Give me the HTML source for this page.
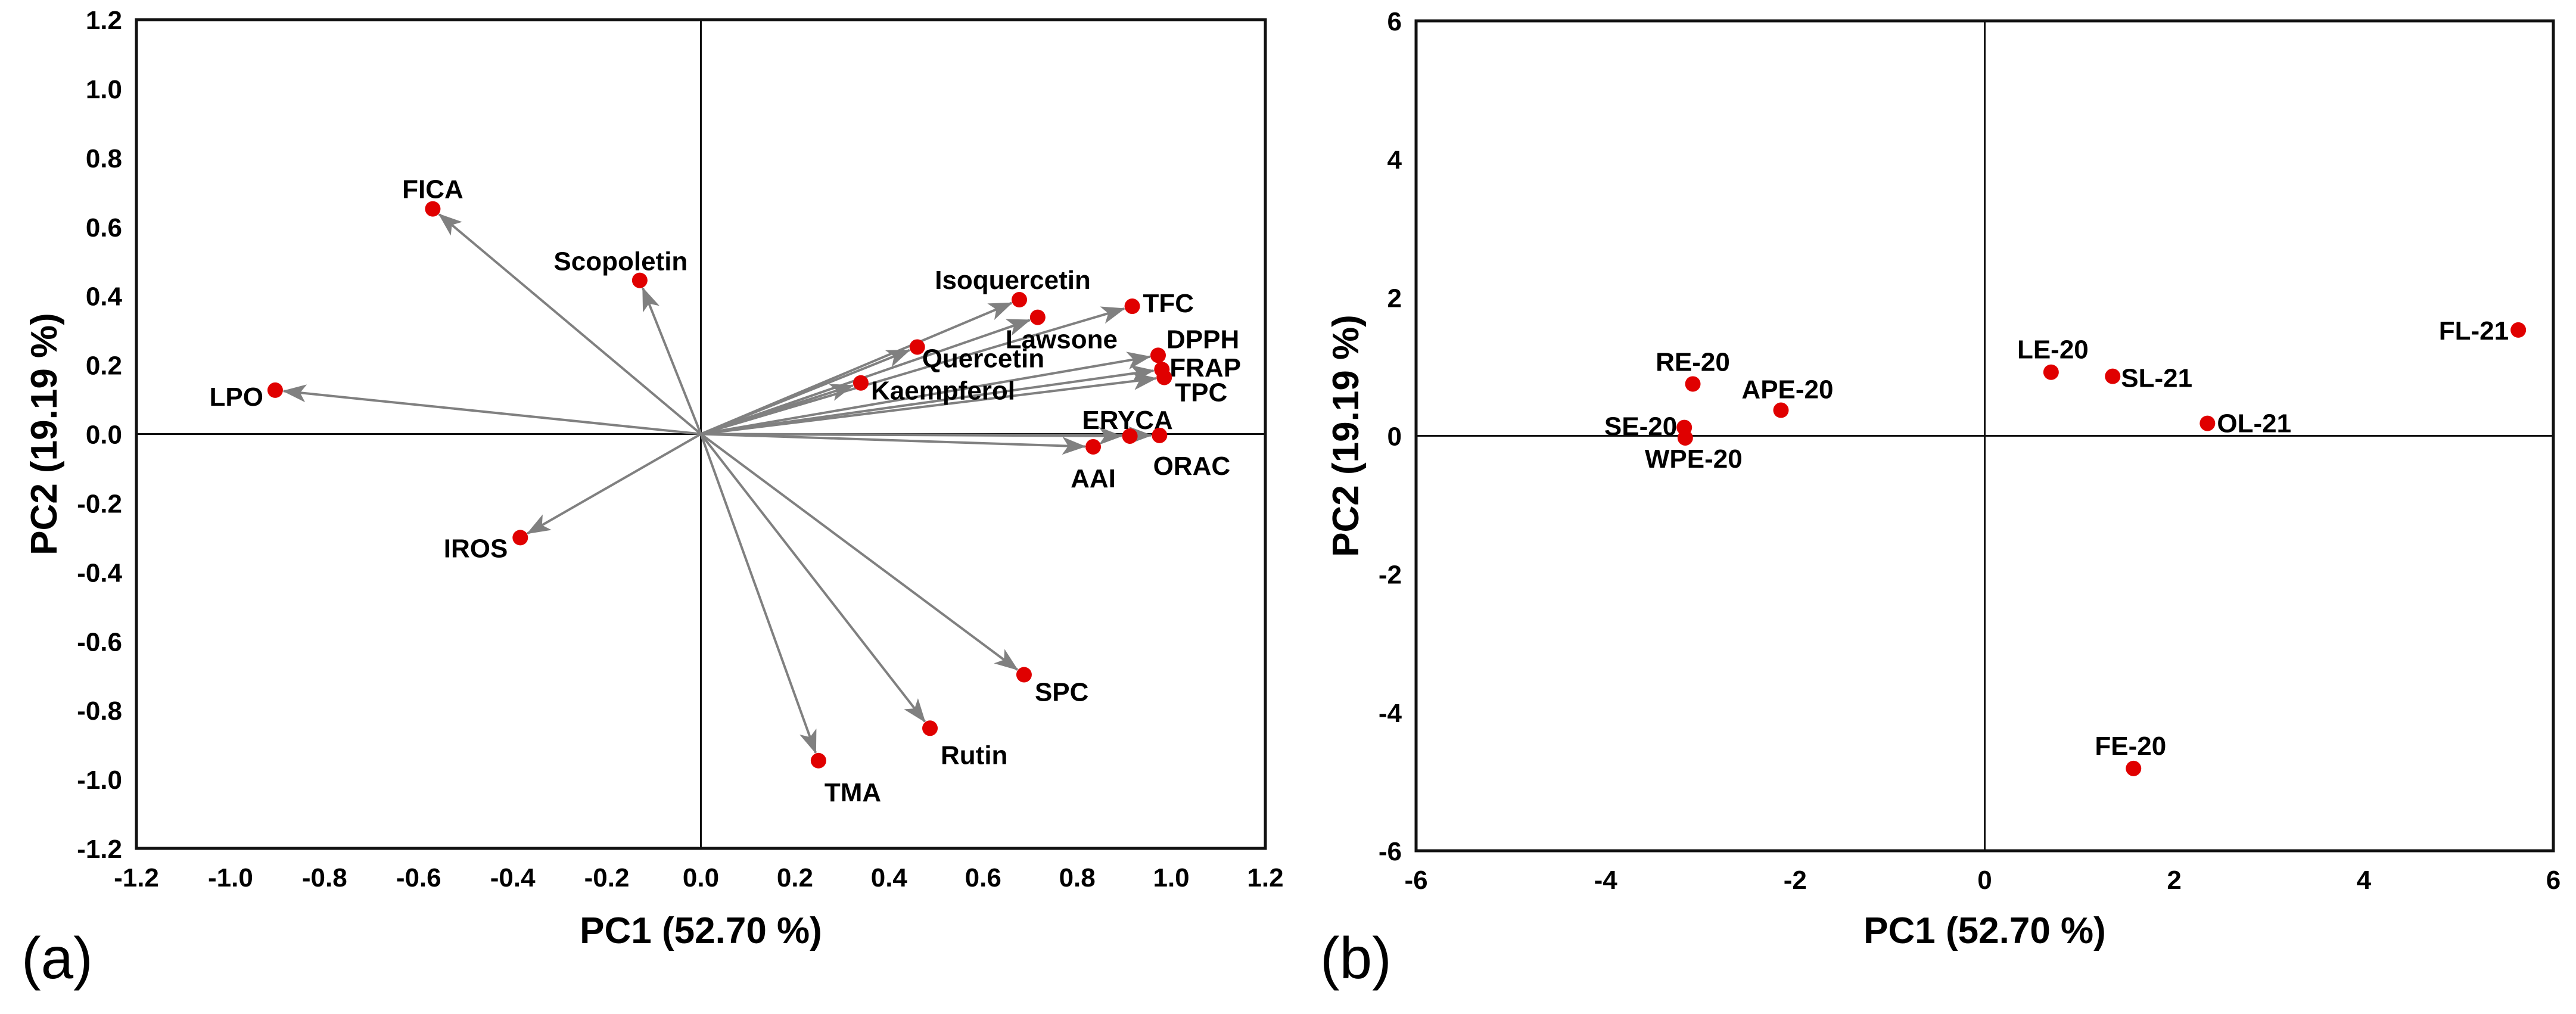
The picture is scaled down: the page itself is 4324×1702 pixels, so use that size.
<!DOCTYPE html>
<html><head><meta charset="utf-8">
<style>
html,body{margin:0;padding:0;background:#fff;}
svg{display:block;}
text{font-family:"Liberation Sans Narrow","Liberation Sans",Arial,sans-serif;font-weight:bold;fill:#000;}
.lab{font-family:"Liberation Sans",Arial,sans-serif;font-weight:normal;}
</style></head>
<body>
<svg id="fig" width="4324" height="1702" viewBox="0 0 4324 1702" xmlns="http://www.w3.org/2000/svg">
<defs>
<marker id="ah" viewBox="0 0 40 30" refX="38" refY="15" markerWidth="40" markerHeight="30" markerUnits="userSpaceOnUse" orient="auto">
<path d="M0,0 L40,15 L0,30 L10,15 Z" fill="#808080"/>
</marker>
</defs>
<g id="plotA"></g>
<g id="plotB"></g>
</svg>
<script>
// ---- Panel (a) loadings data ----
const varNames = ["FICA","Scopoletin","LPO","IROS","Isoquercetin","Lawsone","TFC","DPPH","FRAP","TPC","Quercetin","Kaempferol","ERYCA","ORAC","AAI","SPC","Rutin","TMA"];
const varPC1 = [-0.57,-0.13,-0.905,-0.384,0.677,0.716,0.917,0.972,0.98,0.985,0.46,0.34,0.912,0.975,0.834,0.687,0.487,0.25];
const varPC2 = [0.652,0.445,0.127,-0.30,0.389,0.338,0.37,0.228,0.187,0.164,0.252,0.148,-0.006,-0.004,-0.037,-0.697,-0.852,-0.946];
const ticksA = [-1.2,-1.0,-0.8,-0.6,-0.4,-0.2,0.0,0.2,0.4,0.6,0.8,1.0,1.2];
const tickLabelsA = ["-1.2","-1.0","-0.8","-0.6","-0.4","-0.2","0.0","0.2","0.4","0.6","0.8","1.0","1.2"];
// ---- Panel (b) scores data ----
const obsNames = ["RE-20","APE-20","SE-20","WPE-20","LE-20","SL-21","OL-21","FL-21","FE-20"];
const obsPC1 = [-3.08,-2.15,-3.17,-3.16,0.70,1.35,2.35,5.63,1.57];
const obsPC2 = [0.75,0.37,0.12,-0.03,0.92,0.86,0.18,1.53,-4.81];
const ticksB = [-6,-4,-2,0,2,4,6];
const tickLabelsB = ["-6","-4","-2","0","2","4","6"];

// label placement (styling)
const labA = {FICA:[0,-18,"middle"],Scopoletin:[-32,-17,"middle"],LPO:[-20,26,"end"],IROS:[-21,33,"end"],Isoquercetin:[-11,-18,"middle"],Lawsone:[40,52,"middle"],TFC:[18,10,"start"],DPPH:[14,-12,"start"],FRAP:[13,12,"start"],TPC:[18,40,"start"],Quercetin:[8,34,"start"],Kaempferol:[17,28,"start"],ERYCA:[-4,-12,"middle"],ORAC:[54,66,"middle"],AAI:[0,68,"middle"],SPC:[18,44,"start"],Rutin:[18,60,"start"],TMA:[10,68,"start"]};
const labB = {"RE-20":[0,-22,"middle"],"APE-20":[11,-20,"middle"],"SE-20":[-12,13,"end"],"WPE-20":[14,50,"middle"],"LE-20":[3,-23,"middle"],"SL-21":[14,18,"start"],"OL-21":[16,15,"start"],"FL-21":[-16,16,"end"],"FE-20":[-5,-23,"middle"]};

const NS="http://www.w3.org/2000/svg";
function mk(parent,tag,attrs,txt){const e=document.createElementNS(NS,tag);for(const k in attrs)e.setAttribute(k,attrs[k]);if(txt!==undefined)e.textContent=txt;parent.appendChild(e);return e;}

function panel(g,box,min,max,ticks,tickLabels,letter,letterX,ytitleX,slug){
  const sx=v=>box.l+(v-min)/(max-min)*(box.r-box.l);
  const sy=v=>box.b-(v-min)/(max-min)*(box.b-box.t);
  let e;
  e=mk(g,"rect",{x:box.l,y:box.t,width:box.r-box.l,height:box.b-box.t,fill:"none",stroke:"#111","stroke-width":5});
  
  
  e=mk(g,"line",{x1:sx(0),x2:sx(0),y1:box.t,y2:box.b,stroke:"#111","stroke-width":3});
  
  
  e=mk(g,"line",{x1:box.l,x2:box.r,y1:sy(0),y2:sy(0),stroke:"#111","stroke-width":3});
  
  
  ticks.forEach((t,i)=>{
    e=mk(g,"text",{x:sx(t),y:box.b+64,"font-size":44,"text-anchor":"middle"},tickLabels[i]);
    
    
    e=mk(g,"text",{x:box.l-24,y:sy(t)+16,"font-size":44,"text-anchor":"end"},tickLabels[i]);
    
    
  });
  const cx=(box.l+box.r)/2, cy=(box.t+box.b)/2;
  e=mk(g,"text",{x:cx,y:1583,"font-size":62,"text-anchor":"middle"},"PC1 (52.70 %)");
  
  
  e=mk(g,"text",{x:ytitleX,y:cy,"font-size":62,"text-anchor":"middle",transform:"rotate(-90 "+ytitleX+" "+cy+")"},"PC2 (19.19 %)");
  
  
  e=mk(g,"text",{x:letterX,y:1642,"font-size":98,"class":"lab"},letter);
  
  
  return {sx,sy};
}

const gA=document.getElementById("plotA");
const A=panel(gA,{l:229,r:2124,t:33,b:1424},-1.2,1.2,ticksA,tickLabelsA,"(a)",36,95,"loading");
varNames.forEach((n,i)=>{
  const x=A.sx(varPC1[i]), y=A.sy(varPC2[i]);
  const x0=A.sx(0), y0=A.sy(0);
  const d=Math.hypot(x-x0,y-y0), k=(d-14)/d;
  let e=mk(gA,"line",{x1:x0,y1:y0,x2:x0+(x-x0)*k,y2:y0+(y-y0)*k,stroke:"#808080","stroke-width":4,"marker-end":"url(#ah)"});
  
  
});
varNames.forEach((n,i)=>{
  const x=A.sx(varPC1[i]), y=A.sy(varPC2[i]);
  let e=mk(gA,"circle",{cx:x,cy:y,r:13,fill:"#e00000"});
  
  
  const o=labA[n];
  e=mk(gA,"text",{x:x+o[0],y:y+o[1],"font-size":44,"text-anchor":o[2]},n);
  
  
});

const gB=document.getElementById("plotB");
const B=panel(gB,{l:2377,r:4286,t:35,b:1428},-6,6,ticksB,tickLabelsB,"(b)",2216,2280,"score");
obsNames.forEach((n,i)=>{
  const x=B.sx(obsPC1[i]), y=B.sy(obsPC2[i]);
  let e=mk(gB,"circle",{cx:x,cy:y,r:13,fill:"#e00000"});
  
  
  const o=labB[n];
  e=mk(gB,"text",{x:x+o[0],y:y+o[1],"font-size":44,"text-anchor":o[2]},n);
  
  
});
</script>
</body></html>
